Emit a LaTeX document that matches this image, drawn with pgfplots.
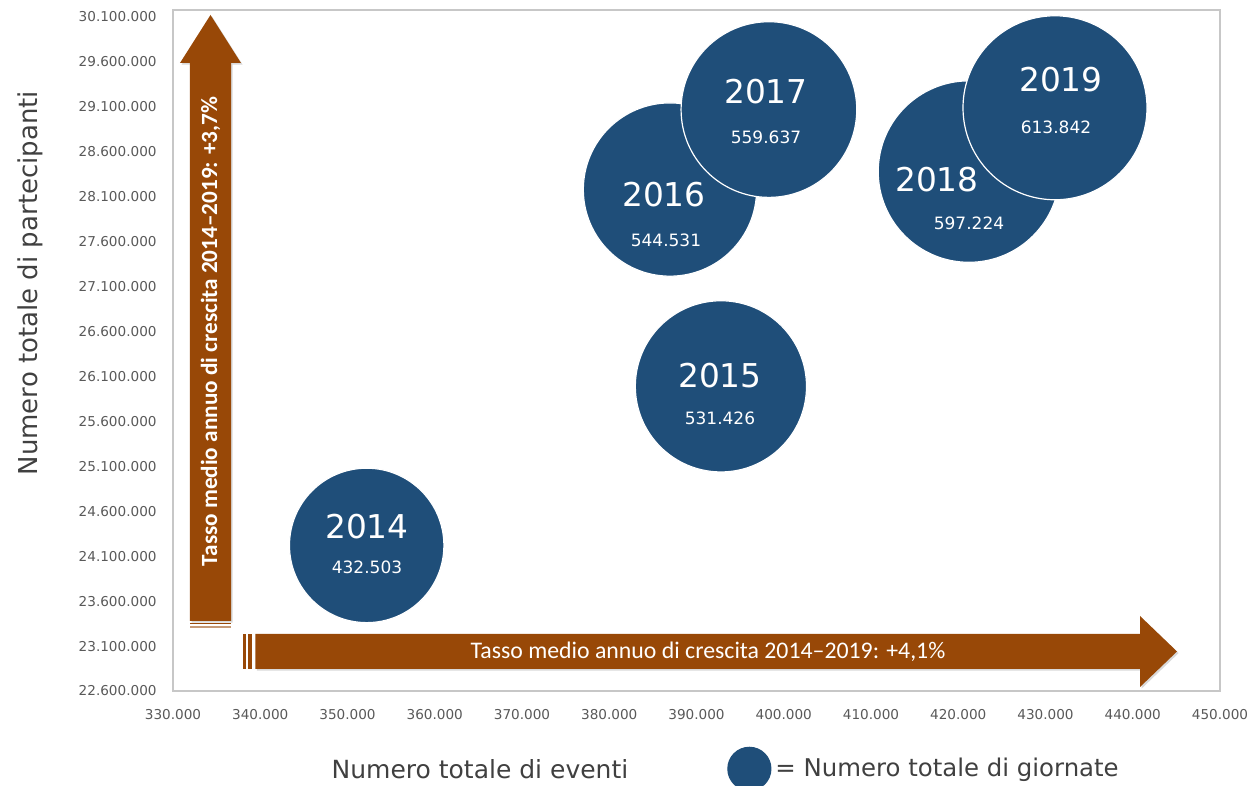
\documentclass[border=0pt]{standalone}
\usepackage{pgfplots}
\pgfplotsset{compat=1.18}
\usepackage{pgfplotstable}
\usepackage{fontspec}
\setmainfont{DejaVu Sans}
\newfontfamily\carlito{Carlito}
\usetikzlibrary{shadows}
\definecolor{bubble}{RGB}{31,78,121}
\definecolor{arrowbrown}{RGB}{152,72,7}
\definecolor{ticktext}{RGB}{89,89,89}
\definecolor{titletext}{RGB}{64,64,64}

% bubbles: events, participants, days
\pgfplotstableread{
year x y g
2014 352200 24220000 432503
2015 392800 25990000 531426
2016 386960 28180000 544531
2017 398300 29070000 559637
2018 421230 28380000 597224
2019 431090 29090000 613842
}\bubbles

% label positions (data units)
\pgfplotstableread{
year x y
2014 352235 24425000
2015 392693 26105000
2016 386275 28119000
2017 397966 29265000
2018 417564 28286000
2019 431777 29399000
}\yearlabels

\pgfplotstableread{
g x y
432503 352235 23980000
531426 392693 25638000
544531 386504 27618000
559637 397966 28764000
597224 421232 27808000
613842 431204 28876000
}\valuelabels

\begin{document}
\begin{tikzpicture}
\useasboundingbox (-86.5pt,-47.5pt) rectangle (540.5pt,345.5pt);
\begin{axis}[
  scale only axis, width=523.5pt, height=340.5pt,
  xmin=330000, xmax=450000, ymin=22600000, ymax=30178000,
  xtick={330000,340000,350000,360000,370000,380000,390000,400000,410000,420000,430000,440000,450000},
  ytick={22600000,23100000,23600000,24100000,24600000,25100000,25600000,26100000,26600000,27100000,27600000,28100000,28600000,29100000,29600000,30100000},
  scaled ticks=false,
  major tick length=0pt,
  tick style={draw=none},
  axis line style={draw=black!22, line width=0.8pt},
  tick label style={font=\fontsize{6.8}{8}\selectfont, text=ticktext,
    /pgf/number format/assume math mode=true, /pgf/number format/fixed,
    /pgf/number format/1000 sep={.}},
  xticklabel style={inner sep=0pt, anchor=north, yshift=-9pt},
  yticklabel style={inner sep=0pt, anchor=east, xshift=-8pt},
  xlabel={Numero totale di eventi},
  xlabel style={at={(axis description cs:0.2932,-0.115)}, anchor=center,
    font=\fontsize{12.5}{14}\selectfont, text=titletext},
  ylabel={Numero totale di partecipanti},
  ylabel style={at={(axis description cs:-0.1366,0.599)}, anchor=center,
    font=\fontsize{13}{15}\selectfont, text=titletext},
  clip=false,
  legend style={draw=none, fill=none, at={(0.529,-0.1143)}, anchor=west,
    font=\fontsize{12.2}{14}\selectfont, text=titletext, inner sep=0pt},
  legend cell align=left,
]
\addplot[scatter, only marks, mark=*, line width=0.6pt,
  point meta=\thisrow{g}, point meta min=0, point meta max=613842,
  scatter/use mapped color={draw=white, fill=bubble},
  scatter/@pre marker code/.append style={/tikz/mark size={46*sqrt(\pgfplotspointmetatransformed/1000)}},
  legend image code/.code={\fill[bubble] (10.75pt,0pt) circle (10.75pt);}
] table[x=x, y=y] {\bubbles};
\addlegendentry{= Numero totale di giornate}

\addplot[only marks, mark=none, forget plot,
  point meta=explicit symbolic,
  nodes near coords={\pgfplotspointmeta},
  every node near coord/.append style={anchor=center,
    text=white, font=\fontsize{16.4}{18}\selectfont}
] table[x=x, y=y, meta=year] {\yearlabels};

\addplot[only marks, mark=none, forget plot,
  point meta=explicit symbolic,
  nodes near coords={\pgfmathprintnumber[fixed, 1000 sep={.}, assume math mode=true]{\pgfplotspointmeta}},
  every node near coord/.append style={anchor=center,
    text=white, font=\fontsize{8.5}{10}\selectfont}
] table[x=x, y=y, meta=g] {\valuelabels};
\end{axis}

% vertical arrow
\fill[arrowbrown, drop shadow={shadow xshift=0.8pt, shadow yshift=-0.8pt, opacity=0.3}]
  (8.5pt,35pt) -- (8.5pt,314pt) -- (3.5pt,314pt) -- (18.75pt,338pt) -- (34pt,314pt)
  -- (29pt,314pt) -- (29pt,35pt) -- cycle;
\fill[arrowbrown] (8.5pt,33.25pt) rectangle (29pt,34pt);
\fill[arrowbrown!55] (8.5pt,31.5pt) rectangle (29pt,32.25pt);
\node[rotate=90, text=white, font=\carlito\bfseries\fontsize{11.6}{13}\selectfont]
  at (18.75pt,179.75pt) {Tasso medio annuo di crescita 2014–2019: +3,7\%};

% horizontal arrow
\fill[arrowbrown, drop shadow={shadow xshift=0.8pt, shadow yshift=-0.8pt, opacity=0.3}]
  (41.15pt,11pt) -- (483.5pt,11pt) -- (483.5pt,2pt) -- (502pt,19.75pt)
  -- (483.5pt,37.5pt) -- (483.5pt,28.5pt) -- (41.15pt,28.5pt) -- cycle;
\fill[arrowbrown] (35.15pt,11pt) rectangle (36.5pt,28.5pt);
\fill[arrowbrown] (37.35pt,11pt) rectangle (39.65pt,28.5pt);
\node[text=white, font=\carlito\fontsize{11.9}{13}\selectfont]
  at (267.5pt,19.75pt) {Tasso medio annuo di crescita 2014–2019: +4,1\%};
\end{tikzpicture}
\end{document}
